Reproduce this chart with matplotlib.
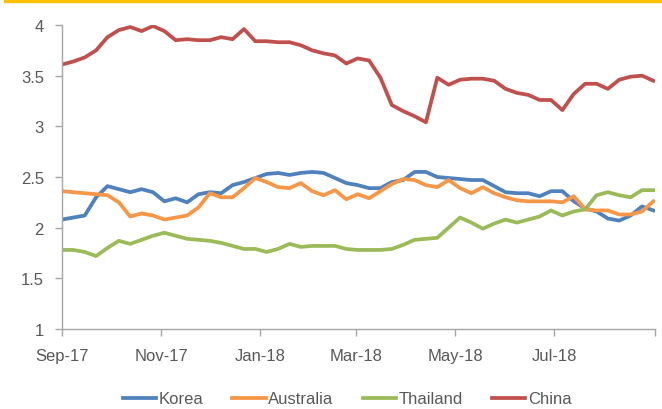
import matplotlib
matplotlib.use("Agg")
import matplotlib.pyplot as plt
import numpy as np
import pandas as pd
from matplotlib.lines import Line2D

plt.rcParams['font.family'] = ['Liberation Sans', 'DejaVu Sans']

dates = pd.date_range("2017-09-01", periods=53, freq="7D")

korea = [2.08, 2.10, 2.12, 2.30, 2.41, 2.38, 2.35, 2.38, 2.35, 2.26, 2.29, 2.25, 2.33,
         2.35, 2.34, 2.42, 2.45, 2.49, 2.53, 2.54, 2.52, 2.54, 2.55, 2.54, 2.49, 2.44,
         2.42, 2.39, 2.39, 2.45, 2.47, 2.55, 2.55, 2.50, 2.49, 2.48, 2.47, 2.47, 2.41,
         2.35, 2.34, 2.34, 2.31, 2.36, 2.36, 2.26, 2.19, 2.16, 2.09, 2.07, 2.12, 2.21, 2.17]
australia = [2.36, 2.35, 2.34, 2.33, 2.32, 2.25, 2.11, 2.14, 2.12, 2.08, 2.10, 2.12, 2.20,
             2.34, 2.30, 2.30, 2.39, 2.49, 2.45, 2.40, 2.39, 2.44, 2.36, 2.32, 2.37, 2.28,
             2.33, 2.29, 2.36, 2.43, 2.48, 2.47, 2.42, 2.40, 2.47, 2.39, 2.34, 2.40, 2.34,
             2.30, 2.27, 2.26, 2.26, 2.26, 2.25, 2.31, 2.18, 2.17, 2.17, 2.13, 2.13, 2.16, 2.26]
thailand = [1.78, 1.78, 1.76, 1.72, 1.80, 1.87, 1.84, 1.88, 1.92, 1.95, 1.92, 1.89, 1.88,
            1.87, 1.85, 1.82, 1.79, 1.79, 1.76, 1.79, 1.84, 1.81, 1.82, 1.82, 1.82, 1.79,
            1.78, 1.78, 1.78, 1.79, 1.83, 1.88, 1.89, 1.90, 2.00, 2.10, 2.05, 1.99, 2.04,
            2.08, 2.05, 2.08, 2.11, 2.17, 2.12, 2.16, 2.18, 2.32, 2.35, 2.32, 2.30, 2.37, 2.37]
china = [3.61, 3.64, 3.68, 3.75, 3.88, 3.95, 3.98, 3.94, 3.99, 3.94, 3.85, 3.86, 3.85,
         3.85, 3.88, 3.86, 3.96, 3.84, 3.84, 3.83, 3.83, 3.80, 3.75, 3.72, 3.70, 3.62,
         3.67, 3.65, 3.48, 3.21, 3.15, 3.10, 3.04, 3.48, 3.41, 3.46, 3.47, 3.47, 3.45,
         3.37, 3.33, 3.31, 3.26, 3.26, 3.16, 3.32, 3.42, 3.42, 3.37, 3.46, 3.49, 3.50, 3.45]

series_names = ["Korea", "Australia", "Thailand", "China"]
series_values = [korea, australia, thailand, china]
colors = ["#4F81BD", "#F79646", "#9BBB59", "#C0504D"]

y_ticks = [1, 1.5, 2, 2.5, 3, 3.5, 4]
y_labels = ["1", "1.5", "2", "2.5", "3", "3.5", "4"]
x_tick_dates = pd.to_datetime(["2017-09-01", "2017-11-01", "2018-01-01", "2018-03-01",
                               "2018-05-01", "2018-07-01", "2018-09-01"])
x_labels = ["Sep-17", "Nov-17", "Jan-18", "Mar-18", "May-18", "Jul-18", ""]

fig = plt.figure(figsize=(6.62, 4.10), dpi=100)
ax = fig.add_axes([62/662, 1-330/410, (655-62)/662, (330-26)/410])

for name, vals, c in zip(series_names, series_values, colors):
    ax.plot(dates, vals, color=c, lw=2.7, label=name, solid_joinstyle='round')

ax.set_ylim(1, 4)
ax.set_xlim(pd.Timestamp("2017-09-01"), pd.Timestamp("2018-09-01"))
ax.set_yticks(y_ticks)
ax.set_yticklabels(y_labels)
ax.set_xticks(x_tick_dates)
ax.set_xticklabels(x_labels)

gray = "#A6A6A6"
for s in ["top", "right"]:
    ax.spines[s].set_visible(False)
for s in ["left", "bottom"]:
    ax.spines[s].set_color(gray)
    ax.spines[s].set_linewidth(1.0)
ax.tick_params(axis='y', colors=gray, length=5, width=1, pad=8, labelcolor="#595959", labelsize=12)
ax.tick_params(axis='x', colors=gray, length=5, width=1, pad=9, labelcolor="#595959", labelsize=12)

handles = [Line2D([0], [0], color=c, lw=2.7) for c in colors]
fig.legend(handles, series_names, loc='center', bbox_to_anchor=(347/662, 1-400/410), ncol=4,
           frameon=False, fontsize=12, handlelength=2.0, handletextpad=0.15, columnspacing=1.75,
           labelcolor="#595959")

# top yellow rule
fig.add_artist(Line2D([5/662, 1], [1-1.5/410, 1-1.5/410], color="#FFC000", lw=2.4,
                      transform=fig.transFigure))

fig.savefig("out.png", dpi=100)
